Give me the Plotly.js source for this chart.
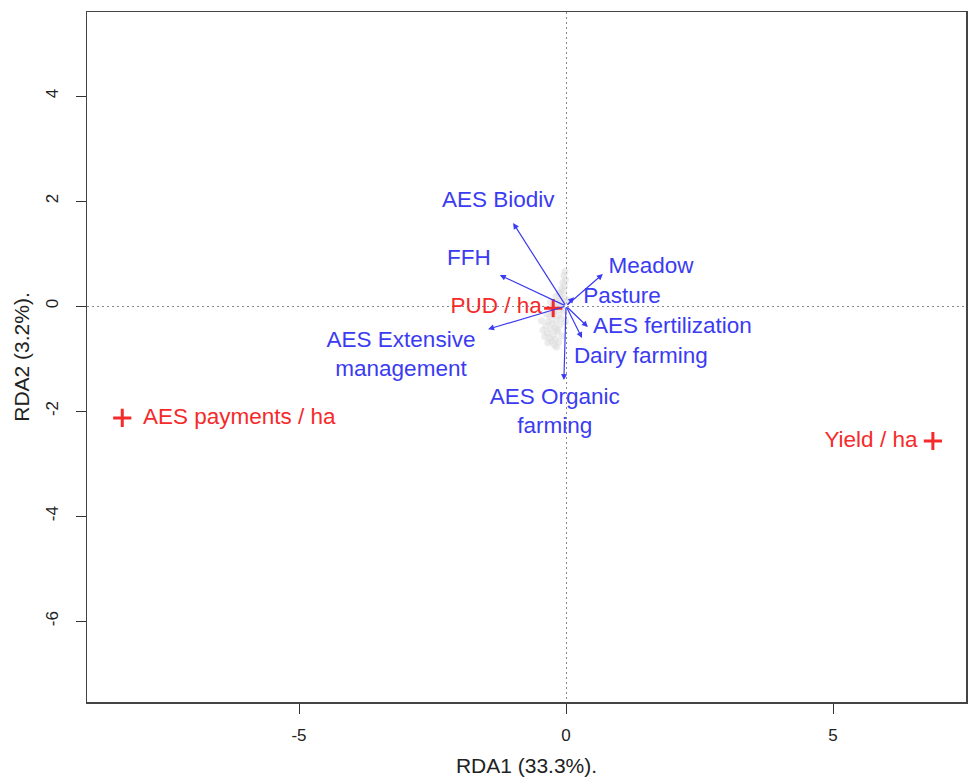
<!DOCTYPE html>
<html>
<head>
<meta charset="utf-8">
<script src="https://cdn.plot.ly/plotly-3.0.1.min.js"></script>
<style>html,body{margin:0;padding:0;background:#fff;}#chart{width:972px;height:778px;}</style>
</head>
<body>
<div id="chart"></div>
<script>
// Environmental variable vectors (biplot arrows)
const vecNames = ["AES Biodiv", "FFH", "AES Extensive management", "Meadow", "Pasture", "AES fertilization", "Dairy farming", "AES Organic farming"];
const vecX = [-0.99, -1.24, -1.46, 0.69, 0.15, 0.41, 0.30, -0.04];
const vecY = [1.58, 0.59, -0.44, 0.61, 0.17, -0.40, -0.61, -1.41];
// Label positions for vectors
const vecLabels = ["AES Biodiv", "FFH", "AES Extensive<br>management", "Meadow", "Pasture", "AES fertilization", "Dairy farming", "AES Organic<br>farming"];
const vecLabX = [-1.27, -1.82, -3.09, 1.59, 1.05, 1.99, 1.40, -0.21];
const vecLabY = [2.00, 0.88, -0.95, 0.74, 0.17, -0.40, -0.97, -2.04];

// Response variables (red crosses)
const respNames = ["AES payments / ha", "Yield / ha", "PUD / ha"];
const respX = [-8.31, 6.87, -0.24];
const respY = [-2.13, -2.57, -0.04];
const respLabX = [-6.12, 5.71, -1.31];
const respLabY = [-2.13, -2.57, -0.02];

// Site scores (grey cloud near origin)
const siteX = [-0.02, -0.04, -0.01, -0.06, -0.03, -0.08, -0.05, -0.10, -0.02, -0.12,
               -0.15, -0.07, -0.18, -0.11, -0.22, -0.04, -0.25, -0.14, -0.30, -0.09,
               -0.19, -0.33, -0.26, -0.12, -0.38, -0.21, -0.29, -0.43, -0.16, -0.35,
               -0.24, -0.40, -0.08, -0.31, -0.20, -0.27, -0.14, -0.34, -0.22, -0.18,
               -0.29, -0.13, -0.25, -0.19, -0.23, -0.16, 0.02, -0.01, -0.46, -0.36];
const siteY = [0.66, 0.58, 0.50, 0.45, 0.38, 0.33, 0.28, 0.22, 0.15, 0.12,
               0.05, 0.02, -0.02, -0.06, -0.08, -0.10, -0.14, -0.18, -0.20, -0.24,
               -0.27, -0.30, -0.33, -0.36, -0.38, -0.41, -0.44, -0.46, -0.49, -0.52,
               -0.55, -0.58, -0.57, -0.61, -0.63, -0.67, -0.69, -0.70, -0.74, -0.78,
               0.08, 0.25, 0.00, 0.18, -0.11, -0.45, 0.10, -0.30, -0.28, -0.15];

const blue = "#3b3bf2";
const red = "#f52a2a";
const fontFam = "Liberation Sans, Arial, sans-serif";

const traces = [
  {x: siteX, y: siteY, mode: "markers", type: "scatter",
   marker: {color: "#dcdcdc", size: 7, opacity: 0.55}, hoverinfo: "skip"},
  {x: vecLabX, y: vecLabY, text: vecLabels, mode: "text", type: "scatter",
   textposition: "middle center", textfont: {family: fontFam, size: 22.5, color: blue}},
  {x: respX, y: respY, mode: "markers", type: "scatter",
   marker: {symbol: "cross-thin", size: 13, line: {color: red, width: 3}}},
  {x: respLabX, y: respLabY, text: respNames, mode: "text", type: "scatter",
   textposition: "middle center", textfont: {family: fontFam, size: 22.5, color: red}}
];

const annotations = vecX.map((vx, i) => ({
  x: vx, y: vecY[i], ax: 0, ay: 0, xref: "x", yref: "y", axref: "x", ayref: "y",
  text: "", showarrow: true, arrowhead: 2, arrowsize: 1, arrowwidth: 1.2, arrowcolor: blue
}));

const layout = {
  width: 972, height: 778,
  margin: {l: 87, r: 6, t: 12, b: 76},
  paper_bgcolor: "#ffffff", plot_bgcolor: "#ffffff",
  showlegend: false,
  font: {family: fontFam, color: "#222"},
  xaxis: {
    range: [-8.97, 7.49], tickvals: [-5, 0, 5], ticktext: ["-5", "0", "5"],
    ticks: "outside", ticklen: 10, tickwidth: 1, tickcolor: "#333",
    showgrid: false, zeroline: true, zerolinecolor: "#888", zerolinewidth: 1,
    showline: true, linecolor: "#444", linewidth: 1.5, mirror: true,
    tickfont: {size: 17, color: "#222"}, ticklabelstandoff: 7,
    title: {text: "RDA1 (33.3%).", font: {size: 21, color: "#222"}, standoff: 14}
  },
  yaxis: {
    range: [-7.54, 5.6], tickvals: [-6, -4, -2, 0, 2, 4], ticktext: ["-6", "-4", "-2", "0", "2", "4"],
    ticks: "outside", ticklen: 10, tickwidth: 1, tickcolor: "#333", tickangle: -90,
    showgrid: false, zeroline: true, zerolinecolor: "#888", zerolinewidth: 1,
    showline: true, linecolor: "#444", linewidth: 1.5, mirror: true,
    tickfont: {size: 17, color: "#222"}, ticklabelstandoff: 11,
    title: {text: "RDA2 (3.2%).", font: {size: 21, color: "#222"}, standoff: 7}
  },
  annotations: annotations
};

Plotly.newPlot("chart", traces, layout, {displayModeBar: false, staticPlot: true}).then(() => {
  // make zero lines dotted
  document.querySelectorAll(".zl").forEach(el => { el.style.strokeDasharray = "2px,3px"; });
});
</script>
</body>
</html>
